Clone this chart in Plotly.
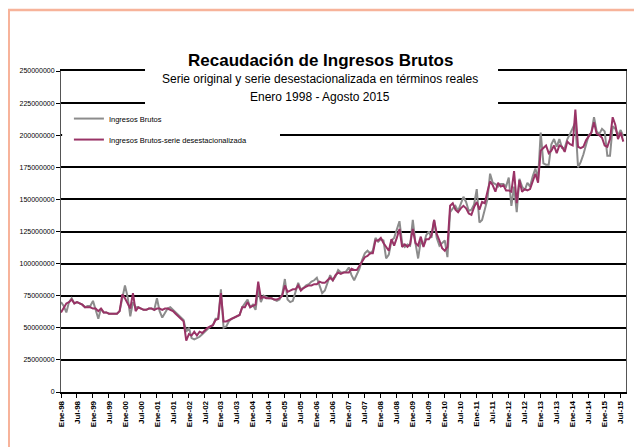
import plotly.graph_objects as go

# Monthly values, millions of pesos (Jan 1998 - Aug 2015)
ingresos_brutos = [
    70, 67, 62, 70, 73, 69, 70, 69, 68, 66, 67, 67,          # 1998
    71, 64, 57, 65, 62, 62, 61, 61, 61, 61, 63, 73,          # 1999
    83, 74, 59, 70, 66, 66, 65, 64, 64, 65, 65, 64,          # 2000
    73, 63, 58, 62, 65, 66, 64, 62, 60, 58, 56, 47,          # 2001
    50, 42, 41, 42, 43, 45, 47, 49, 51, 52, 57, 57,          # 2002
    80, 50, 51, 55, 57, 58, 59, 60, 66, 69, 72, 66,          # 2003
    68, 64, 80, 70, 75, 74, 73, 73, 72, 71, 72, 76,          # 2004
    88, 72, 70, 71, 78, 85, 80, 81, 83, 84, 86, 87,          # 2005
    89, 82, 77, 79, 86, 91, 87, 90, 95, 93, 93, 94,          # 2006
    97, 91, 87, 91, 96, 103, 108, 110, 108, 110, 120, 117,   # 2007
    119, 118, 104, 107, 118, 120, 126, 133, 116, 113, 115, 114,  # 2008
    134, 116, 104, 118, 114, 122, 125, 120, 134, 120, 114, 116,  # 2009
    118, 105, 140, 143, 145, 141, 146, 152, 148, 141, 142, 146,  # 2010
    158, 132, 134, 142, 150, 170, 163, 162, 160, 162, 162, 160,  # 2011
    167, 145, 160, 140, 166, 160, 157, 163, 160, 168, 174, 166,  # 2012
    202, 178, 177, 177, 193, 197, 191, 197, 190, 190, 197, 201,  # 2013
    206, 210, 175, 179, 185, 193, 200, 202, 214, 203, 201, 205,  # 2014
    203, 184, 184, 207, 205, 200, 204, 199,                      # 2015
]

ingresos_desest = [
    62, 66, 69, 70, 72, 69, 70, 69, 68, 66, 66, 66,          # 1998
    65, 65, 63, 65, 62, 62, 61, 61, 61, 61, 63, 76,          # 1999
    73, 69, 65, 77, 63, 66, 65, 64, 64, 65, 65, 64,          # 2000
    65, 65, 64, 65, 65, 64, 63, 61, 59, 57, 55, 40,          # 2001
    45, 44, 47, 44, 47, 46, 48, 50, 51, 52, 56, 57,          # 2002
    77, 55, 55, 56, 57, 58, 59, 60, 66, 66, 70, 66,          # 2003
    67, 68, 86, 73, 74, 73, 73, 73, 72, 72, 73, 75,          # 2004
    83, 78, 79, 80, 80, 83, 79, 81, 82, 83, 83, 84,          # 2005
    84, 86, 85, 85, 87, 89, 87, 91, 93, 92, 93, 93,          # 2006
    93, 96, 95, 95, 98, 101, 105, 106, 108, 108, 118, 118,   # 2007
    120, 116, 113, 110, 119, 114, 120, 127, 113, 115, 113, 115,  # 2008
    127, 116, 114, 121, 113, 119, 119, 122, 134, 123, 118, 112,  # 2009
    110, 113, 145, 147, 142, 140, 143, 145, 143, 139, 138, 144,  # 2010
    148, 142, 148, 147, 156, 164, 161, 156, 163, 160, 161, 157,  # 2011
    157, 156, 172, 147, 165, 156, 158, 157, 158, 165, 170, 163,  # 2012
    188, 190, 192, 186, 188, 192, 186, 192, 191, 187, 195, 193,  # 2013
    192, 220, 191, 190, 191, 196, 199, 202, 210, 201, 200, 198,  # 2014
    192, 191, 197, 214, 208, 197, 202, 195,                      # 2015
]

meses = ["Ene", "Feb", "Mar", "Abr", "May", "Jun",
         "Jul", "Ago", "Sep", "Oct", "Nov", "Dic"]
years = list(range(1998, 2016))
month_labels = [f"{m}-{str(y)[2:]}" for y in years for m in meses][:len(ingresos_brutos)]
tick_labels = month_labels[::6]

y_ticks = [0, 25e6, 50e6, 75e6, 100e6, 125e6, 150e6, 175e6, 200e6, 225e6, 250e6]

FONT = "Liberation Sans, Arial, sans-serif"

fig = go.Figure()
fig.add_trace(go.Scatter(
    x=month_labels, y=[v * 1e6 for v in ingresos_brutos],
    mode="lines", name="Ingresos Brutos", legendgroup="a",
    line=dict(color="#8c8c8c", width=2),
))
fig.add_trace(go.Scatter(
    x=month_labels, y=[v * 1e6 for v in ingresos_desest],
    mode="lines", name="Ingresos Brutos-serie desestacionalizada", legendgroup="b",
    line=dict(color="#993366", width=2),
))

fig.update_layout(
    width=634, height=439,
    margin=dict(l=53, r=16, t=63, b=55),
    paper_bgcolor="white", plot_bgcolor="white",
    font=dict(family=FONT, color="black"),
    showlegend=True,
    legend=dict(
        x=0.014, y=0.897, xanchor="left", yanchor="top",
        bgcolor="rgba(0,0,0,0)", font=dict(size=7.5, family=FONT),
        itemwidth=30, traceorder="grouped", tracegroupgap=2,
    ),
    xaxis=dict(
        type="category", range=[0, len(month_labels)],
        tickmode="array", tickvals=tick_labels, ticktext=tick_labels,
        tickangle=-90, tickfont=dict(size=8, family=FONT, weight="bold"),
        ticks="outside", ticklen=4, tickcolor="black",
        showline=True, linecolor="black", linewidth=1.5, mirror=True,
        showgrid=False, zeroline=False,
    ),
    yaxis=dict(
        range=[0, 250e6], tickmode="array", tickvals=y_ticks,
        tickformat="d", tickfont=dict(size=7, family=FONT),
        ticks="outside", ticklen=4, tickcolor="black",
        showline=True, linecolor="#555555", linewidth=1, mirror=True,
        showgrid=True, gridcolor="black", gridwidth=1.7, zeroline=False,
    ),
    shapes=[
        # outer frame
        dict(type="rect", xref="paper", yref="paper",
             x0=-0.0925, x1=1.08, y0=-0.25, y1=1.19,
             line=dict(color="#f7b39a", width=2.5), fillcolor="rgba(0,0,0,0)", layer="above"),
        # title background
        dict(type="rect", xref="paper", yref="paper",
             x0=0.1487, x1=0.7735, y0=0.882, y1=1.025,
             line=dict(width=0), fillcolor="white", layer="above"),
        # legend background
        dict(type="rect", xref="paper", yref="paper",
             x0=0.002, x1=0.3876, y0=0.754, y1=0.89,
             line=dict(width=0), fillcolor="white", layer="above"),
    ],
    annotations=[
        dict(text="<b>Recaudación de Ingresos Brutos</b>", x=0.459, y=1.034,
             xref="paper", yref="paper", xanchor="center", yanchor="middle",
             showarrow=False, font=dict(size=17, family=FONT)),
        dict(text="Serie original y serie desestacionalizada en términos reales",
             x=0.459, y=0.975, xref="paper", yref="paper",
             xanchor="center", yanchor="middle", showarrow=False,
             font=dict(size=12, family=FONT)),
        dict(text="Enero 1998 - Agosto 2015", x=0.459, y=0.919,
             xref="paper", yref="paper", xanchor="center", yanchor="middle",
             showarrow=False, font=dict(size=12, family=FONT)),
    ],
)

fig.write_html("out.html")
